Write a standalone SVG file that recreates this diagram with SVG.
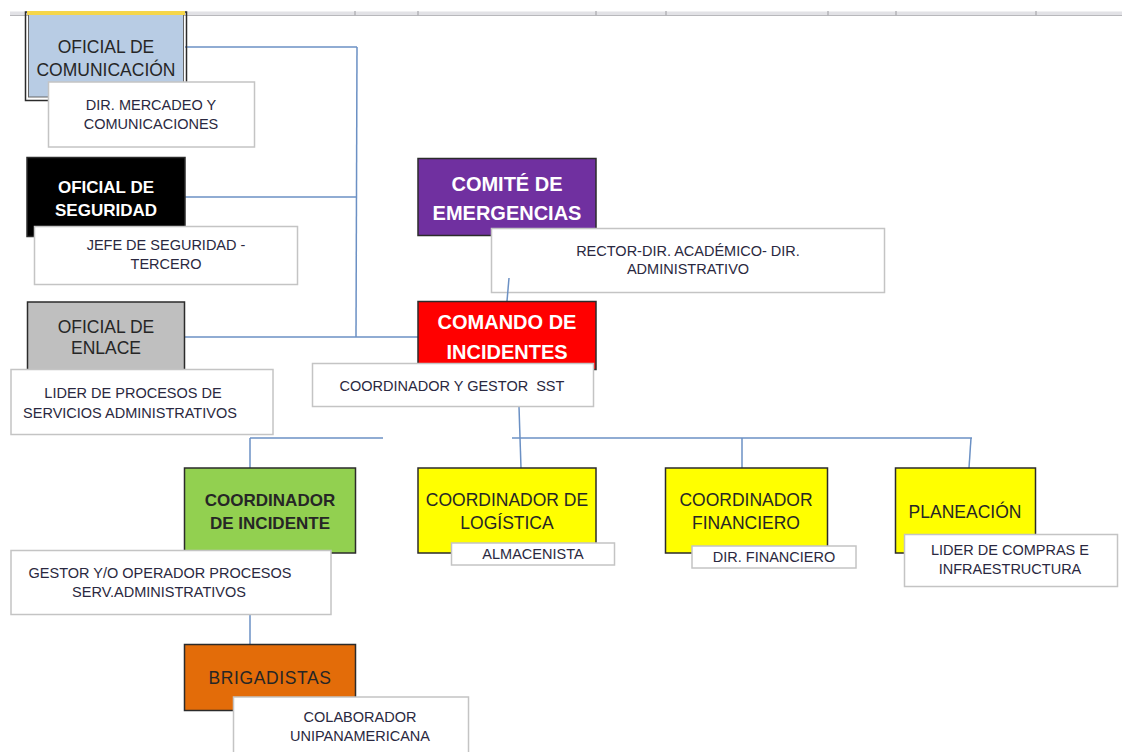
<svg xmlns="http://www.w3.org/2000/svg" width="1122" height="752" viewBox="0 0 1122 752">
<style>
text{font-family:"Liberation Sans",Arial,sans-serif;text-anchor:middle;dominant-baseline:central}
.node{stroke:#2b2b2b;stroke-width:1.5}
.lbl{fill:#fff;stroke:#c4c4c4;stroke-width:1.5}
.nt{font-size:17.5px;fill:#262626}
.bt{font-size:17px;font-weight:bold;fill:#262626}
.wt{font-size:20px;font-weight:bold;fill:#fff}
.lt{font-size:14.5px;fill:#2a2840}
.conn line{stroke:#6b90c4;stroke-width:1.5}
.tick{stroke:#b4b4b8;stroke-width:1.5}
</style>
<rect width="1122" height="752" fill="#fff"/>
<g id="sheet-header">
<rect x="10" y="11.5" width="1112" height="3.5" fill="#e2e2e6"/>
<line x1="10" y1="15.5" x2="1122" y2="15.5" stroke="#b8b8bc" stroke-width="1"/>
<line class="tick" x1="355" y1="11" x2="355" y2="16"/>
<line class="tick" x1="418" y1="11" x2="418" y2="16"/>
<line class="tick" x1="596" y1="11" x2="596" y2="16"/>
<line class="tick" x1="666" y1="11" x2="666" y2="16"/>
<line class="tick" x1="828" y1="11" x2="828" y2="16"/>
<line class="tick" x1="896" y1="11" x2="896" y2="16"/>
<line class="tick" x1="1036" y1="11" x2="1036" y2="16"/>
</g>
<g class="conn" id="connectors">
<line x1="185" y1="47" x2="357" y2="47"/>
<line x1="357" y1="47" x2="356" y2="337"/>
<line x1="185" y1="197" x2="357" y2="197"/>
<line x1="185" y1="337" x2="418" y2="337"/>
<line x1="250" y1="438" x2="383" y2="438"/>
<line x1="512" y1="438" x2="972" y2="438"/>
<line x1="250" y1="438" x2="250" y2="468"/>
<line x1="742" y1="438" x2="742" y2="468"/>
<line x1="971" y1="438" x2="969" y2="468"/>
<line x1="519" y1="407" x2="521" y2="468"/>
<line x1="250" y1="615" x2="250" y2="645"/>
</g>
<g id="oficial-comunicacion">
<rect x="25.5" y="12" width="161" height="88.5" fill="none" stroke="#2b2b2b" stroke-width="1.5"/>
<rect x="28.5" y="12" width="155" height="85" fill="#b8cce4" stroke="#666" stroke-width="1"/>
<rect x="27" y="11" width="158" height="4" fill="#f5d64a"/>
<text class="nt" x="106" y="47">OFICIAL DE</text>
<text class="nt" x="106" y="70">COMUNICACIÓN</text>
</g>
<g id="dir-mercadeo">
<rect class="lbl" x="48.5" y="82" width="206" height="65"/>
<text class="lt" x="151" y="105">DIR. MERCADEO Y</text>
<text class="lt" x="151" y="124">COMUNICACIONES</text>
</g>
<g id="oficial-seguridad">
<rect class="node" x="27" y="157.5" width="158" height="79" fill="#000"/>
<text class="bt" x="106" y="187" style="fill:#fff">OFICIAL DE</text>
<text class="bt" x="106" y="210" style="fill:#fff">SEGURIDAD</text>
</g>
<g id="jefe-seguridad">
<rect class="lbl" x="34.5" y="226.5" width="263" height="58"/>
<text class="lt" x="166" y="245">JEFE DE SEGURIDAD -</text>
<text class="lt" x="166" y="264">TERCERO</text>
</g>
<g id="comite-emergencias">
<rect class="node" x="418" y="158.5" width="178" height="77" fill="#7030a0"/>
<text class="wt" x="507" y="184">COMITÉ DE</text>
<text class="wt" x="507" y="213">EMERGENCIAS</text>
</g>
<g id="rector">
<rect class="lbl" x="491.5" y="228.5" width="393" height="64"/>
<text class="lt" x="688" y="251">RECTOR-DIR. ACADÉMICO- DIR.</text>
<text class="lt" x="688" y="269">ADMINISTRATIVO</text>
</g>
<g class="conn" id="connector-rector">
<line x1="509" y1="278" x2="507" y2="301"/>
</g>
<g id="oficial-enlace">
<rect class="node" x="27.5" y="302" width="157" height="72" fill="#bfbfbf"/>
<text class="nt" x="106" y="327">OFICIAL DE</text>
<text class="nt" x="106" y="348">ENLACE</text>
</g>
<g id="lider-procesos">
<rect class="lbl" x="11" y="369.5" width="262" height="65"/>
<text class="lt" x="133" y="393">LIDER DE PROCESOS DE</text>
<text class="lt" x="130" y="413">SERVICIOS ADMINISTRATIVOS</text>
</g>
<g id="comando-incidentes">
<rect class="node" x="418" y="301.5" width="178" height="68" fill="#ff0000"/>
<text class="wt" x="507" y="322">COMANDO DE</text>
<text class="wt" x="507" y="352">INCIDENTES</text>
</g>
<g id="coordinador-sst">
<rect class="lbl" x="312.5" y="363.5" width="281" height="43"/>
<text class="lt" x="452" y="386" xml:space="preserve">COORDINADOR Y GESTOR  SST</text>
</g>
<g id="coordinador-incidente">
<rect class="node" x="184.5" y="468" width="171" height="85" fill="#92d050"/>
<text class="bt" x="270" y="500">COORDINADOR</text>
<text class="bt" x="270" y="523">DE INCIDENTE</text>
</g>
<g id="gestor-operador">
<rect class="lbl" x="11" y="550.5" width="320" height="64"/>
<text class="lt" x="160" y="573">GESTOR Y/O OPERADOR PROCESOS</text>
<text class="lt" x="159" y="592">SERV.ADMINISTRATIVOS</text>
</g>
<g id="coordinador-logistica">
<rect class="node" x="418" y="468" width="178" height="85" fill="#ffff00"/>
<text class="nt" x="507" y="500">COORDINADOR DE</text>
<text class="nt" x="507" y="523">LOGÍSTICA</text>
</g>
<g id="almacenista">
<rect class="lbl" x="451.5" y="543" width="163" height="22"/>
<text class="lt" x="533" y="554">ALMACENISTA</text>
</g>
<g id="coordinador-financiero">
<rect class="node" x="665.5" y="468" width="162" height="85" fill="#ffff00"/>
<text class="nt" x="746" y="500">COORDINADOR</text>
<text class="nt" x="746" y="523">FINANCIERO</text>
</g>
<g id="dir-financiero">
<rect class="lbl" x="692" y="546" width="164" height="22"/>
<text class="lt" x="774" y="557">DIR. FINANCIERO</text>
</g>
<g id="planeacion">
<rect class="node" x="895.5" y="468" width="140" height="85" fill="#ffff00"/>
<text class="nt" x="965" y="512">PLANEACIÓN</text>
</g>
<g id="lider-compras">
<rect class="lbl" x="904.5" y="534.5" width="213" height="52"/>
<text class="lt" x="1010" y="550">LIDER DE COMPRAS E</text>
<text class="lt" x="1010" y="569">INFRAESTRUCTURA</text>
</g>
<g id="brigadistas">
<rect class="node" x="184.5" y="644.5" width="171" height="66" fill="#e36c09"/>
<text class="nt" x="270" y="678" style="letter-spacing:0.6px">BRIGADISTAS</text>
</g>
<g id="colaborador">
<rect class="lbl" x="233.5" y="697" width="235" height="60"/>
<text class="lt" x="360" y="717">COLABORADOR</text>
<text class="lt" x="360" y="736">UNIPANAMERICANA</text>
</g>
</svg>
